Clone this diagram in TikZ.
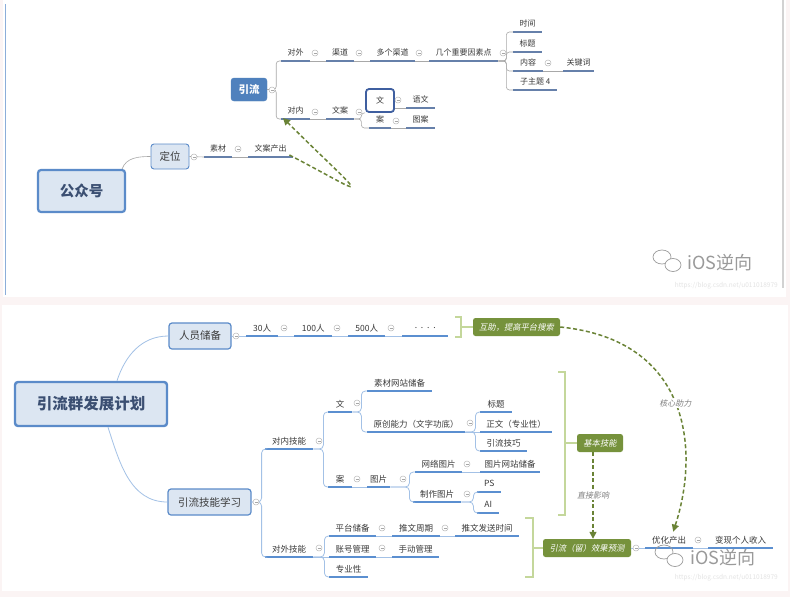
\documentclass[tikz,border=0pt]{standalone}
\usepackage{fontspec}
\setmainfont{Noto Sans CJK SC}
\newfontfamily\slantcjk{Noto Sans CJK SC}[FakeSlant=0.2]
\usepackage{tikz}
\usetikzlibrary{arrows.meta, positioning}

\definecolor{pagebg}{HTML}{FBF4F4}
\definecolor{boxfill}{HTML}{DCE6F2}
\definecolor{boxline}{HTML}{5B8BC9}
\definecolor{selblue}{HTML}{3F5FA0}
\definecolor{topfill}{HTML}{4F81BD}
\definecolor{txt}{HTML}{3A3A3A}
\definecolor{navy}{HTML}{3B4F72}
\definecolor{ulblue}{HTML}{5B8FD0}
\definecolor{ulgray}{HTML}{6680AA}
\definecolor{connblue}{HTML}{A3C1E6}
\definecolor{conngray}{HTML}{A8A8A8}
\definecolor{olive}{HTML}{76923C}
\definecolor{bracegreen}{HTML}{C4D79B}
\definecolor{wmgray}{HTML}{9A9A9A}

\begin{document}
\begin{tikzpicture}[x=1pt, y=-1pt,
    box/.style={rectangle, rounded corners=3pt, fill=boxfill, draw=boxline, inner sep=0pt, text=navy},
    ttopic/.style={anchor=south west, inner sep=0pt, minimum height=16pt, text=txt, font=\fontsize{8}{9}\selectfont,
        append after command={(\tikzlastnode.south west) edge[draw=ulgray, line width=1.4pt] (\tikzlastnode.south east)}},
    topic/.style={anchor=south west, inner sep=0pt, minimum height=16pt, text=txt, font=\fontsize{8.5}{10}\selectfont,
        append after command={(\tikzlastnode.south west) edge[draw=ulblue, line width=1.6pt] (\tikzlastnode.south east)}},
    fold/.style={circle, draw=gray!55, fill=white, line width=0.5pt, minimum size=6pt, inner sep=0pt,
        path picture={\draw[gray!70, line width=0.5pt] ([xshift=1.5pt]path picture bounding box.west) -- ([xshift=-1.5pt]path picture bounding box.east);}},
    tconn/.style={draw=conngray, line width=0.6pt, rounded corners=3pt},
    conn/.style={draw=connblue, line width=0.8pt, rounded corners=4pt},
    sumbox/.style={rectangle, rounded corners=2.5pt, fill=olive, text=white, inner sep=0pt, minimum height=18pt, font=\slantcjk\fontsize{8.3}{9}\selectfont},
    sumbracket/.style={draw=bracegreen, line width=2.4pt},
    dashrel/.style={draw=olive!90!black, line width=1.5pt, dash pattern=on 4pt off 2.5pt, -{Triangle[length=7pt, width=7pt]}},
    lbl/.style={font=\slantcjk\fontsize{8}{9}\selectfont, text=gray, fill=white, inner sep=1pt}
  ]
  \useasboundingbox (0,0) rectangle (790,597);
  \fill[pagebg] (0,0) rectangle (790,597);
  \fill[white] (3,0) rectangle (786,297);
  \fill[white] (2,305) rectangle (788,591);
  \draw[boxline!70, line width=1pt] (5,4) -- (5,295);
  \draw[gray!35, line width=1.5pt] (783,0) -- (783,288);

  % upper map
  \node[box, line width=2.2pt, minimum width=87pt, minimum height=42pt, font=\bfseries\fontsize{14.5}{16}\selectfont] (gzh) at (81.5,191) {公众号};
  \node[box, line width=0.9pt, minimum width=38pt, minimum height=25pt, text=txt, font=\fontsize{10.5}{12}\selectfont] (dingwei) at (170,156.5) {定位};
  \node[box, fill=topfill, draw=topfill, minimum width=36pt, minimum height=23pt, text=white, font=\bfseries\fontsize{10.5}{12}\selectfont] (yinliu) at (249,89.5) {引流};

  \node[ttopic, minimum width=28pt] (sucai) at (204,157) {素材};
  \node[ttopic, minimum width=45pt] (wacc) at (248,157) {文案产出};
  \node[ttopic, minimum width=29pt] (duiwai) at (281,61) {对外};
  \node[ttopic, minimum width=28pt] (qudao) at (326,61) {渠道};
  \node[ttopic, minimum width=45pt] (duoqd) at (370,61) {多个渠道};
  \node[ttopic, minimum width=69pt] (yinsu) at (429,61) {几个重要因素点};
  \node[ttopic, minimum width=29pt] (shijian) at (513,32) {时间};
  \node[ttopic, minimum width=29pt] (biaoti) at (513,52) {标题};
  \node[ttopic, minimum width=30pt] (neirong) at (513,71) {内容};
  \node[ttopic, minimum width=44pt] (zzt) at (513,90) {子主题 4};
  \node[ttopic, minimum width=31pt] (guanjian) at (563,71) {关键词};
  \node[ttopic, minimum width=29pt] (duinei) at (281,119) {对内};
  \node[ttopic, minimum width=28pt] (wenan) at (326,119) {文案};
  \node[rectangle, rounded corners=3pt, draw=selblue, line width=1.8pt, fill=white, minimum width=28pt, minimum height=23pt, inner sep=0pt, text=txt, font=\fontsize{8}{9}\selectfont] (wen) at (380,100.5) {文};
  \node[ttopic, minimum width=29pt] (yuwen) at (406,108) {语文};
  \node[ttopic, minimum width=22pt] (an) at (369,128) {案};
  \node[ttopic, minimum width=29pt] (tuan) at (406,128) {图案};

  \draw[tconn] ([xshift=-4pt]gzh.north east) to[out=70, in=180] (dingwei.west);
  \draw[tconn] (dingwei.east) -- (sucai.south west);
  \draw[tconn] (sucai.south east) -- (wacc.south west);
  \draw[tconn] (yinliu.east) -- ++(9,0) |- (duiwai.south west);
  \draw[tconn] (yinliu.east) -- ++(9,0) |- (duinei.south west);
  \draw[tconn] (duiwai.south east) -- (qudao.south west);
  \draw[tconn] (qudao.south east) -- (duoqd.south west);
  \draw[tconn] (duoqd.south east) -- (yinsu.south west);
  \draw[tconn] (yinsu.south east) -- ++(8,0) |- (shijian.south west);
  \draw[tconn] (yinsu.south east) -- ++(8,0) |- (biaoti.south west);
  \draw[tconn] (yinsu.south east) -- ++(8,0) |- (neirong.south west);
  \draw[tconn] (yinsu.south east) -- ++(8,0) |- (zzt.south west);
  \draw[tconn] (neirong.south east) -- (guanjian.south west);
  \draw[tconn] (duinei.south east) -- (wenan.south west);
  \draw[tconn] (wenan.south east) -- ++(7,0) |- (wen.south west);
  \draw[tconn] (wenan.south east) -- ++(7,0) |- (an.south west);
  \draw[tconn] (wen.east |- yuwen.south west) -- (yuwen.south west);
  \draw[tconn] (an.south east) -- (tuan.south west);

  \node[fold] (fa1) at (194,157) {};
  \node[fold] (fa2) at (238,149) {};
  \node[fold] (fa3) at (272,90) {};
  \node[fold] (fa4) at (315,53) {};
  \node[fold] (fa5) at (359,53) {};
  \node[fold] (fa6) at (419,53) {};
  \node[fold] (fa7) at (503,53) {};
  \node[fold] (fa8) at (548,63) {};
  \node[fold] (fa9) at (315,112) {};
  \node[fold] (fa10) at (359,112) {};
  \node[fold] (fa11) at (398,100) {};
  \node[fold] (fa12) at (396,121) {};

  \draw[dashrel] ([xshift=-4pt, yshift=2pt]wacc.south east) .. controls (372,198) and (372,206) .. ([xshift=2pt, yshift=1pt]duinei.south west);

  % lower map
  \node[box, line width=2.4pt, minimum width=152pt, minimum height=44pt, font=\bfseries\fontsize{15.5}{17}\selectfont] (plan) at (91,404) {引流群发展计划};
  \node[box, line width=1.2pt, minimum width=62pt, minimum height=26pt, text=txt, font=\fontsize{10.5}{12}\selectfont] (renyuan) at (200,336) {人员储备};
  \node[box, line width=1.2pt, minimum width=83pt, minimum height=26pt, text=txt, font=\fontsize{10.5}{12}\selectfont] (jineng) at (209.5,502) {引流技能学习};

  \node[topic, minimum width=32pt] (r30) at (246,336) {30人};
  \node[topic, minimum width=38pt] (r100) at (294,336) {100人};
  \node[topic, minimum width=37pt] (r500) at (348,336) {500人};
  \node[topic, minimum width=46pt] (rdots) at (402,336) {.\ \ .\ \ .\ \ .};
  \node[sumbox, minimum width=87pt] (huzhu) at (516.5,327) {互助，提高平台搜索};

  \node[topic, minimum width=48pt] (duineijn) at (265,449) {对内技能};
  \node[topic, minimum width=24pt] (wen2) at (328,412) {文};
  \node[topic, minimum width=24pt] (an2) at (328,487) {案};
  \node[topic, minimum width=65pt] (sucaiwz) at (367,391) {素材网站储备};
  \node[topic, minimum width=98pt] (yuanchuang) at (367,432) {原创能力（文字功底）};
  \node[topic, minimum width=32pt] (biaoti2) at (480,412) {标题};
  \node[topic, minimum width=72pt] (zhengwen) at (480,432) {正文（专业性）};
  \node[topic, minimum width=47pt] (jiqiao) at (480,451) {引流技巧};
  \node[topic, minimum width=23pt] (tupian) at (367,487) {图片};
  \node[topic, minimum width=47pt] (wangluo) at (415,472) {网络图片};
  \node[topic, minimum width=60pt] (tpwz) at (480,472) {图片网站储备};
  \node[topic, minimum width=48pt] (zhizuo) at (413,502) {制作图片};
  \node[topic, minimum width=24pt] (ps) at (477,492) {PS};
  \node[topic, minimum width=22pt] (ai) at (477,513) {AI};
  \node[sumbox, minimum width=46pt] (jiben) at (600,443) {基本技能};

  \node[topic, minimum width=48pt] (duiwaijn) at (265,557) {对外技能};
  \node[topic, minimum width=47pt] (pingtai) at (329,536) {平台储备};
  \node[topic, minimum width=48pt] (zhouqi) at (392,536) {推文周期};
  \node[topic, minimum width=64pt] (fasong) at (455,536) {推文发送时间};
  \node[topic, minimum width=47pt] (zhanghao) at (329,557) {账号管理};
  \node[topic, minimum width=47pt] (shoudong) at (392,557) {手动管理};
  \node[topic, minimum width=39pt] (zhuanye) at (329,577) {专业性};
  \node[sumbox, minimum width=88pt] (yuce) at (587,548) {引流（留）效果预测};
  \node[topic, minimum width=48pt] (youhua) at (645,548) {优化产出};
  \node[topic, minimum width=65pt] (bianxian) at (708,548) {变现个人收入};

  \draw[conn] ([xshift=26pt]plan.north) to[out=72, in=180] (renyuan.west);
  \draw[conn] ([xshift=17pt]plan.south) to[out=-72, in=180] (jineng.west);
  \draw[conn] (renyuan.east) -- (r30.south west);
  \draw[conn] (r30.south east) -- (r100.south west);
  \draw[conn] (r100.south east) -- (r500.south west);
  \draw[conn] (r500.south east) -- (rdots.south west);
  \draw[conn] (jineng.east) -- ++(10,0) |- (duineijn.south west);
  \draw[conn] (jineng.east) -- ++(10,0) |- (duiwaijn.south west);
  \draw[conn] (duineijn.south east) -- ++(10,0) |- (wen2.south west);
  \draw[conn] (duineijn.south east) -- ++(10,0) |- (an2.south west);
  \draw[conn] (wen2.south east) -- ++(9,0) |- (sucaiwz.south west);
  \draw[conn] (wen2.south east) -- ++(9,0) |- (yuanchuang.south west);
  \draw[conn] (yuanchuang.south east) -- ++(10,0) |- (biaoti2.south west);
  \draw[conn] (yuanchuang.south east) -- (zhengwen.south west);
  \draw[conn] (yuanchuang.south east) -- ++(10,0) |- (jiqiao.south west);
  \draw[conn] (an2.south east) -- (tupian.south west);
  \draw[conn] (tupian.south east) -- ++(19,0) |- (wangluo.south west);
  \draw[conn] (tupian.south east) -- ++(19,0) |- (zhizuo.south west);
  \draw[conn] (wangluo.south east) -- (tpwz.south west);
  \draw[conn] (zhizuo.south east) -- ++(12,0) |- (ps.south west);
  \draw[conn] (zhizuo.south east) -- ++(12,0) |- (ai.south west);
  \draw[conn] (duiwaijn.south east) -- ++(11,0) |- (pingtai.south west);
  \draw[conn] (duiwaijn.south east) -- (zhanghao.south west);
  \draw[conn] (duiwaijn.south east) -- ++(11,0) |- (zhuanye.south west);
  \draw[conn] (pingtai.south east) -- (zhouqi.south west);
  \draw[conn] (zhouqi.south east) -- (fasong.south west);
  \draw[conn] (zhanghao.south east) -- (shoudong.south west);
  \draw[conn] (yuce.east) -- (youhua.south west);
  \draw[conn] (youhua.south east) -- (bianxian.south west);

  % summary brackets
  \coordinate (brk1) at (461,327);
  \coordinate (brk2) at (565,443);
  \coordinate (brk3) at (533,548);
  \draw[sumbracket] (455,317) -- (461,317) -- (461,337) -- (455,337);
  \draw[sumbracket] (brk1) -- (huzhu.west);
  \draw[sumbracket] (558,372) -- (565,372) -- (565,515) -- (558,515);
  \draw[sumbracket] (brk2) -- (jiben.west);
  \draw[sumbracket] (525,518) -- (533,518) -- (533,577) -- (525,577);
  \draw[sumbracket] (brk3) -- (yuce.west);

  \node[fold] (fb1) at (236,336) {};
  \node[fold] (fb2) at (284,328) {};
  \node[fold] (fb3) at (337,328) {};
  \node[fold] (fb4) at (391,328) {};
  \node[fold] (fb5) at (256,502) {};
  \node[fold] (fb6) at (319,441) {};
  \node[fold] (fb7) at (357,403) {};
  \node[fold] (fb8) at (470,423) {};
  \node[fold] (fb9) at (357,479) {};
  \node[fold] (fb10) at (403,479) {};
  \node[fold] (fb11) at (467,464) {};
  \node[fold] (fb12) at (467,494) {};
  \node[fold] (fb13) at (319,548) {};
  \node[fold] (fb14) at (382,528) {};
  \node[fold] (fb15) at (445,528) {};
  \node[fold] (fb16) at (382,548) {};
  \node[fold] (fb17) at (636,548) {};
  \node[fold] (fb18) at (698,540) {};

  \draw[dashrel] (huzhu.east) .. controls (690,340) and (700,450) .. ([xshift=4pt]youhua.north) node[lbl, pos=0.5] {核心助力};
  \draw[dashrel] ([xshift=-7pt]jiben.south) -- node[lbl] {直接影响} ([xshift=6pt]yuce.north);

  % watermarks
  \draw[wmgray, line width=0.7pt] (662,257) ellipse (9pt and 7pt);
  \draw[wmgray, line width=0.7pt, fill=white] (673,265) ellipse (8pt and 6.5pt);
  \node[anchor=west, text=wmgray, font=\fontsize{18}{19}\selectfont, inner sep=0pt] (wmtop) at (687,263) {iOS逆向};
  \node[anchor=east, text=gray!22, font=\fontsize{6.5}{7}\selectfont, inner sep=0pt] (urltop) at (778,286) {https://blog.csdn.net/u011018979};
  \draw[wmgray, line width=0.7pt] (664,552) ellipse (9pt and 7pt);
  \draw[wmgray, line width=0.7pt, fill=white] (675,560) ellipse (8pt and 6.5pt);
  \node[anchor=west, text=wmgray, font=\fontsize{18}{19}\selectfont, inner sep=0pt] (wmbot) at (690,558) {iOS逆向};
  \node[anchor=east, text=gray!22, font=\fontsize{6.5}{7}\selectfont, inner sep=0pt] (urlbot) at (778,578) {https://blog.csdn.net/u011018979};
\end{tikzpicture}
\end{document}
